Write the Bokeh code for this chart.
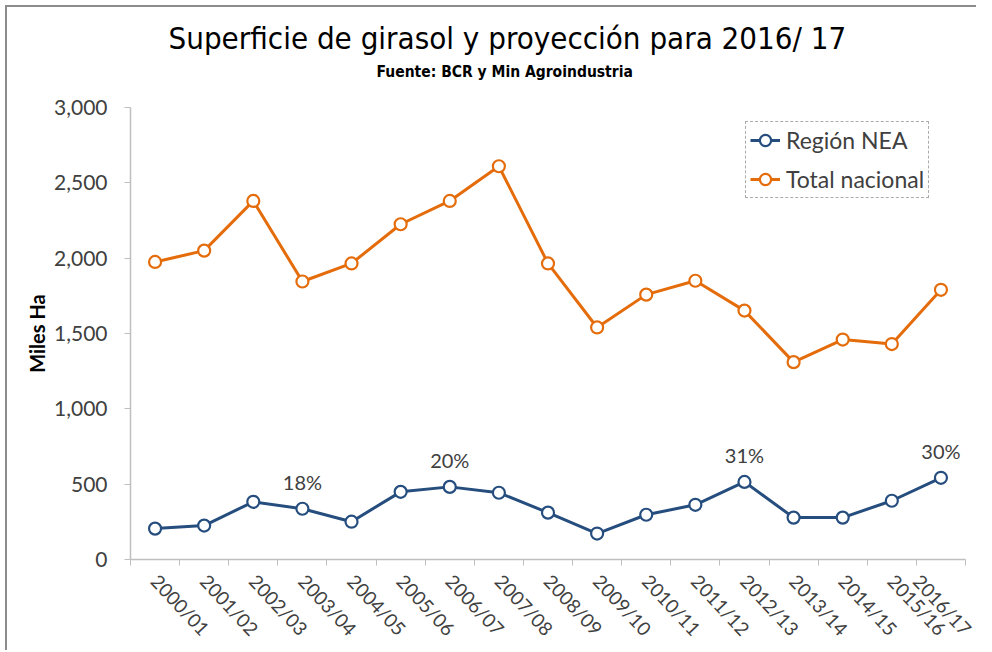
from bokeh.plotting import figure
from bokeh.models import (ColumnDataSource, Range1d, Legend, LegendItem,
                          NumeralTickFormatter, Title, FixedTicker)
from bokeh.core.properties import value
from bokeh.embed import file_html
from bokeh.resources import INLINE

campaigns = ["2000/01", "2001/02", "2002/03", "2003/04", "2004/05", "2005/06", "2006/07",
             "2007/08", "2008/09", "2009/10", "2010/11", "2011/12", "2012/13", "2013/14",
             "2014/15", "2015/16", "2016/17"]
total_nacional = [1975, 2050, 2380, 1845, 1965, 2225, 2380, 2610, 1965, 1540, 1758, 1850,
                  1652, 1310, 1460, 1430, 1790]
region_nea = [205, 225, 383, 337, 251, 449, 482, 443, 311, 172, 297, 363, 515, 278, 278,
              390, 542]
label_campaigns = ["2003/04", "2006/07", "2012/13", "2016/17"]
label_values = [337, 482, 515, 542]
label_texts = ["18%", "20%", "31%", "30%"]
y_ticks = [0, 500, 1000, 1500, 2000, 2500, 3000]

BLUE = "#254D7E"
ORANGE = "#E46C0A"
TXT = "#404040"
FONT = "Lato"
NARROW = "DejaVu Sans Condensed"

idx = list(range(len(campaigns)))
label_idx = [campaigns.index(c) for c in label_campaigns]

p = figure(width=976, height=650, output_backend="svg", toolbar_location=None,
           x_range=Range1d(-0.5, len(campaigns) - 0.5),
           y_range=Range1d(y_ticks[0], y_ticks[-1]),
           min_border_left=130, min_border_right=11, min_border_top=107, min_border_bottom=89)
p.title.text = ""
p.title.visible = False

# chart-area border on the left and top edges, drawn inside the element (no layout change)
p.border_fill_alpha = 0
p.styles = {"box-shadow": "inset 5px 5px 0 0 #FFFFFF, inset 7px 7px 0 0 #8C8C8C",
            "border": "0", "outline": "0"}

spacer = Title(text=" ", text_font_size="1px", standoff=22)
p.add_layout(spacer, "above")
sub = Title(text="Fuente: BCR y Min Agroindustria", align="left", offset=246,
            text_font=NARROW, text_font_size="15.5px",
            text_font_style="bold", text_color="#000000", standoff=4)
p.add_layout(sub, "above")
main = Title(text="Superficie de girasol y proyección para 2016/ 17", align="left",
             offset=38, text_font=NARROW, text_font_size="31px",
             text_font_style="normal", text_color="#000000", standoff=6)
p.add_layout(main, "above")

src_t = ColumnDataSource(dict(x=idx, y=total_nacional))
src_n = ColumnDataSource(dict(x=idx, y=region_nea))

l1 = p.line("x", "y", source=src_n, line_color=BLUE, line_width=3)
c1 = p.scatter("x", "y", source=src_n, size=12, marker="circle", fill_color="white",
               line_color=BLUE, line_width=2.2)
l2 = p.line("x", "y", source=src_t, line_color=ORANGE, line_width=3)
c2 = p.scatter("x", "y", source=src_t, size=12, marker="circle", fill_color="white",
               line_color=ORANGE, line_width=2.2)

src_l = ColumnDataSource(dict(x=label_idx, y=label_values, t=label_texts))
p.text("x", "y", text="t", source=src_l, text_align="center", text_baseline="bottom",
       y_offset=-15, text_font=value(FONT), text_font_size="20px", text_color=TXT)

legend = Legend(items=[LegendItem(label="Región NEA", renderers=[l1, c1]),
                       LegendItem(label="Total nacional", renderers=[l2, c2])],
                location=(615, 361), label_text_font=FONT, label_text_font_size="23px",
                label_text_color=TXT, border_line_color="#595959", border_line_dash="3 2",
                border_line_width=1, background_fill_alpha=1, padding=4, spacing=11,
                glyph_width=30, glyph_height=28, label_height=28, label_standoff=6, margin=0)
p.add_layout(legend, "center")

p.xgrid.grid_line_color = None
p.ygrid.grid_line_color = None
p.outline_line_color = None

p.yaxis.ticker = FixedTicker(ticks=y_ticks)
p.yaxis.formatter = NumeralTickFormatter(format="0,0")
p.yaxis.axis_label = "Miles Ha"
p.yaxis.axis_label_text_font = FONT
p.yaxis.axis_label_text_font_size = "20px"
p.yaxis.axis_label_text_font_style = "bold"
p.yaxis.axis_label_text_color = "#000000"
p.yaxis.axis_label_standoff = 2

p.xaxis.ticker = FixedTicker(ticks=idx, minor_ticks=[i - 0.5 for i in idx] + [idx[-1] + 0.5])
p.xaxis.major_label_overrides = {i: c for i, c in zip(idx, campaigns)}

for ax in (p.xaxis, p.yaxis):
    ax.axis_line_color = "#BFBFBF"
    ax.axis_line_width = 1.5
    ax.major_tick_line_color = "#BFBFBF"
    ax.major_tick_in = 0
    ax.major_tick_out = 6
    ax.major_label_text_font = FONT
    ax.major_label_text_color = TXT

p.yaxis.minor_tick_line_color = None
p.yaxis.major_label_text_font_size = "21px"
p.yaxis.major_label_standoff = 17

p.xaxis.major_tick_line_color = None
p.xaxis.minor_tick_line_color = "#BFBFBF"
p.xaxis.minor_tick_in = 0
p.xaxis.minor_tick_out = 6
p.xaxis.major_label_text_font_size = "19px"
p.xaxis.major_label_orientation = -0.82
p.xaxis.major_label_standoff = 12

open("out.html", "w").write(file_html(p, INLINE))
